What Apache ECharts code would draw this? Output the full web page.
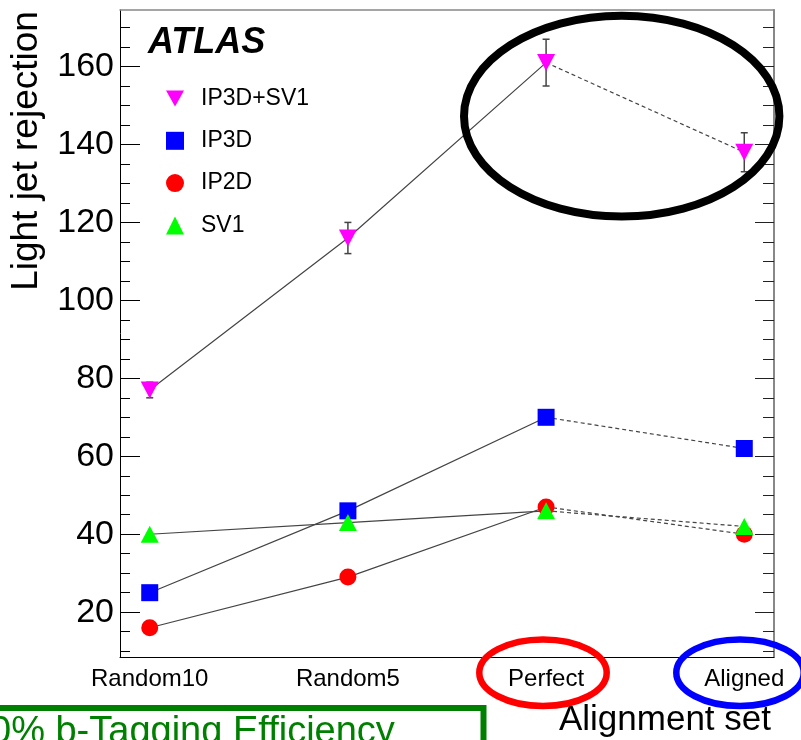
<!DOCTYPE html>
<html>
<head>
<meta charset="utf-8">
<script src="https://cdn.jsdelivr.net/npm/echarts@6/dist/echarts.min.js"></script>
<style>
html,body{margin:0;padding:0;background:#fff;}
#chart{width:801px;height:740px;}
</style>
</head>
<body>
<div id="chart"></div>
<script>
const categories = ['Random10', 'Random5', 'Perfect', 'Aligned'];
const ip3dsv1 = [77, 116, 161, 138];
const ip3dsv1Err = [2, 4, 6, 5];
const ip3d = [25, 46, 70, 62];
const ip2d = [16, 29, 47, 40];
const sv1 = [40, 43, 46, 42];
const yMajorTicks = [20, 40, 60, 80, 100, 120, 140, 160];
const yMinorTicks = [10, 15, 25, 30, 35, 45, 50, 55, 65, 70, 75, 85, 90, 95, 105, 110, 115, 125, 130, 135, 145, 150, 155, 165, 170];
const categoryPositions = [0, 1, 2, 3];

const FONT = 'Liberation Sans, Arial, Helvetica, sans-serif';
const LINE_COLOR = '#444';
const downTriangle = 'path://M0,0L20,0L10,18Z';

const seriesDefs = [
  { name: 'IP3D+SV1', values: ip3dsv1, symbol: downTriangle, size: [18, 17], color: '#ff00ff' },
  { name: 'IP3D', values: ip3d, symbol: 'rect', size: 17, color: '#0000ff' },
  { name: 'IP2D', values: ip2d, symbol: 'circle', size: 17, color: '#ff0000' },
  { name: 'SV1', values: sv1, symbol: 'triangle', size: [18, 17], color: '#00ff00' }
];

const series = [];
seriesDefs.forEach(function (d) {
  const pts = d.values.map(function (v, i) { return [categoryPositions[i], v]; });
  series.push({
    type: 'line', name: d.name + ' solid', data: pts.slice(0, 3),
    symbol: 'none', lineStyle: { color: LINE_COLOR, width: 1.2 }, z: 2, silent: true
  });
  series.push({
    type: 'line', name: d.name + ' dashed', data: pts.slice(2, 4),
    symbol: 'none', lineStyle: { color: LINE_COLOR, width: 1.2, type: [4, 3] }, z: 2, silent: true
  });
});
series.push({
  type: 'custom',
  name: 'err',
  z: 3,
  data: ip3dsv1.map(function (v, i) { return [categoryPositions[i], v - ip3dsv1Err[i], v + ip3dsv1Err[i]]; }),
  encode: { x: 0, y: [1, 2] },
  renderItem: function (params, api) {
    const x = api.value(0);
    const lo = api.coord([x, api.value(1)]);
    const hi = api.coord([x, api.value(2)]);
    const w = 3.5;
    const st = { stroke: '#444', lineWidth: 1.5 };
    return {
      type: 'group',
      children: [
        { type: 'line', shape: { x1: lo[0], y1: lo[1], x2: hi[0], y2: hi[1] }, style: st },
        { type: 'line', shape: { x1: lo[0] - w, y1: lo[1], x2: lo[0] + w, y2: lo[1] }, style: st },
        { type: 'line', shape: { x1: hi[0] - w, y1: hi[1], x2: hi[0] + w, y2: hi[1] }, style: st }
      ]
    };
  }
});
seriesDefs.forEach(function (d, k) {
  series.push({
    type: 'scatter', name: d.name,
    data: d.values.map(function (v, i) { return [categoryPositions[i], v]; }),
    symbol: d.symbol, symbolSize: d.size,
    itemStyle: { color: d.color, opacity: 1 },
    z: 4 + k
  });
});

const chart = echarts.init(document.getElementById('chart'), null, { renderer: 'canvas' });
chart.setOption({
  animation: false,
  backgroundColor: '#fff',
  grid: { left: 120, right: 27, top: 10, bottom: 83 },
  legend: {
    orient: 'vertical', left: 161, top: 82,
    data: ['IP3D+SV1', 'IP3D', 'IP2D', 'SV1'],
    itemWidth: 18, itemHeight: 18, itemGap: 19.3,
    selectedMode: false,
    textStyle: { fontFamily: FONT, fontSize: 23, color: '#000', padding: [0, 0, 0, 12] }
  },
  xAxis: [
    {
      type: 'value', position: 'bottom', min: -0.15, max: 3.15,
      axisLine: { show: true, onZero: false, lineStyle: { color: '#000', width: 1 } },
      axisTick: { show: false },
      splitLine: { show: false },
      axisLabel: {
        customValues: categoryPositions,
        formatter: function (v) { return categories[Math.round(v)]; },
        fontFamily: FONT, fontSize: 24, color: '#000', margin: 10
      }
    },
    {
      type: 'value', position: 'top', min: -0.15, max: 3.15,
      axisLine: { show: true, onZero: false, lineStyle: { color: '#888', width: 1.5 } },
      axisTick: { show: false }, axisLabel: { show: false }, splitLine: { show: false }
    }
  ],
  yAxis: [
    {
      type: 'value', position: 'left', min: 8.5, max: 174.5,
      axisLine: { show: true, onZero: false, lineStyle: { color: '#000', width: 1 } },
      axisTick: { show: true, inside: true, length: 20, customValues: yMajorTicks, lineStyle: { color: '#000' } },
      axisLabel: { customValues: yMajorTicks, fontFamily: FONT, fontSize: 34, color: '#000', margin: 6 },
      splitLine: { show: false }
    },
    {
      type: 'value', position: 'left', min: 8.5, max: 174.5,
      axisLine: { show: false, onZero: false },
      axisTick: { show: true, inside: true, length: 10, customValues: yMinorTicks, lineStyle: { color: '#000' } },
      axisLabel: { show: false }, splitLine: { show: false }
    },
    {
      type: 'value', position: 'right', min: 8.5, max: 174.5,
      axisLine: { show: true, onZero: false, lineStyle: { color: '#888', width: 2 } },
      axisTick: { show: true, inside: true, length: 19, customValues: yMajorTicks, lineStyle: { color: '#222' } },
      axisLabel: { show: false }, splitLine: { show: false }
    },
    {
      type: 'value', position: 'right', min: 8.5, max: 174.5,
      axisLine: { show: false, onZero: false },
      axisTick: { show: true, inside: true, length: 11, customValues: yMinorTicks, lineStyle: { color: '#222' } },
      axisLabel: { show: false }, splitLine: { show: false }
    }
  ],
  graphic: [
    {
      type: 'text', x: 148, y: 43, z: 10,
      style: { text: 'ATLAS', font: 'italic bold 36px ' + FONT, fill: '#000', textAlign: 'left', textVerticalAlign: 'middle' }
    },
    {
      type: 'text', x: 27, y: 151, rotation: Math.PI / 2, z: 10,
      style: { text: 'Light jet rejection', font: '37px ' + FONT, fill: '#000', textAlign: 'center', textVerticalAlign: 'middle' }
    },
    {
      type: 'text', x: 771, y: 720, z: 10,
      style: { text: 'Alignment set', font: '35px ' + FONT, fill: '#000', textAlign: 'right', textVerticalAlign: 'middle' }
    },
    {
      type: 'ellipse', z: 20,
      shape: { cx: 621.7, cy: 116.2, rx: 157.7, ry: 100.4 },
      style: { fill: 'none', stroke: '#000', lineWidth: 8 }
    },
    {
      type: 'ellipse', z: 20,
      shape: { cx: 543, cy: 672.7, rx: 63.7, ry: 33.3 },
      style: { fill: 'none', stroke: '#ff0000', lineWidth: 6.5 }
    },
    {
      type: 'ellipse', z: 20,
      shape: { cx: 740, cy: 672.7, rx: 63.7, ry: 33.3 },
      style: { fill: 'none', stroke: '#0000ff', lineWidth: 6.5 }
    },
    {
      type: 'rect', z: 20,
      shape: { x: -10, y: 708, width: 493.5, height: 60 },
      style: { fill: 'none', stroke: '#008000', lineWidth: 6 }
    },
    {
      type: 'text', x: -10, y: 733, z: 20,
      style: { text: '0% b-Tagging Efficiency', font: '38px ' + FONT, fill: '#008000', textAlign: 'left', textVerticalAlign: 'middle' }
    }
  ],
  series: series
});
</script>
</body>
</html>
